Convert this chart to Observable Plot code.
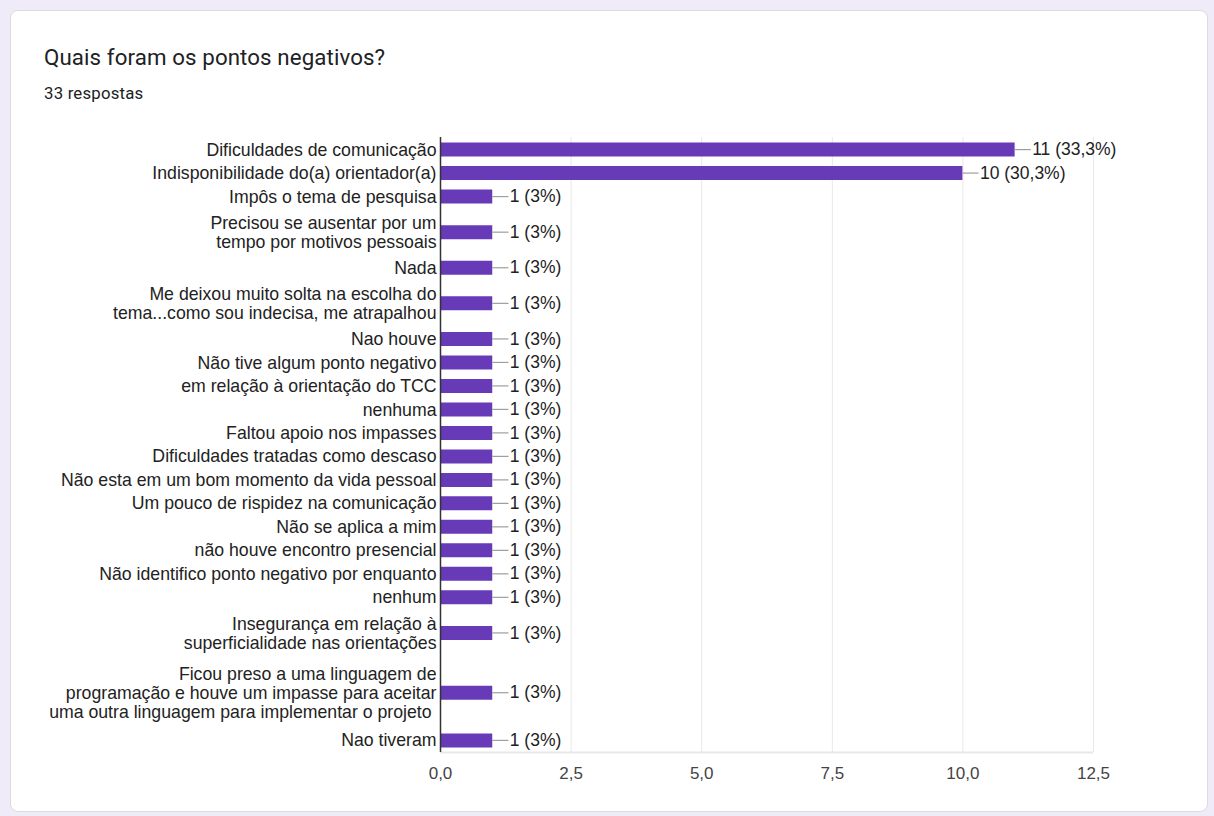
<!DOCTYPE html>
<html>
<head>
<meta charset="utf-8">
<script src="https://cdn.jsdelivr.net/npm/d3@7"></script>
<script src="https://cdn.jsdelivr.net/npm/@observablehq/plot@0.6"></script>
<style>
  html, body { margin: 0; padding: 0; background: #f0ebf8; width: 1214px; height: 816px; overflow: hidden; }
  #card { position: absolute; left: 10px; top: 10px; width: 1198px; height: 802px; background: #fff;
          border: 1px solid #dadce0; border-radius: 8px; box-sizing: border-box; }
  #title { position: absolute; left: 44px; top: 43px; font-family: Roboto, "Noto Sans", sans-serif;
           font-size: 22.3px; color: #202124; letter-spacing: 0.1px; line-height: 28px; }
  #sub { position: absolute; left: 44px; top: 82px; font-family: Roboto, "Noto Sans", sans-serif;
         font-size: 16.8px; color: #202124; letter-spacing: 0.2px; line-height: 22px; }
  #chart { position: absolute; left: 0; top: 120px; }
  #chart svg text { font-family: "Liberation Sans", Arial, sans-serif; }
</style>
</head>
<body>
<div id="card"></div>
<div id="title">Quais foram os pontos negativos?</div>
<div id="sub">33 respostas</div>
<div id="chart"></div>
<script>
const categories = [
  "Dificuldades de comunicação",
  "Indisponibilidade do(a) orientador(a)",
  "Impôs o tema de pesquisa",
  "Precisou se ausentar por um\ntempo por motivos pessoais",
  "Nada",
  "Me deixou muito solta na escolha do\ntema...como sou indecisa, me atrapalhou",
  "Nao houve",
  "Não tive algum ponto negativo",
  "em relação à orientação do TCC",
  "nenhuma",
  "Faltou apoio nos impasses",
  "Dificuldades tratadas como descaso",
  "Não esta em um bom momento da vida pessoal",
  "Um pouco de rispidez na comunicação",
  "Não se aplica a mim",
  "não houve encontro presencial",
  "Não identifico ponto negativo por enquanto",
  "nenhum",
  "Insegurança em relação à\nsuperficialidade nas orientações",
  "Ficou preso a uma linguagem de\nprogramação e houve um impasse para aceitar\numa outra linguagem para implementar o projeto ",
  "Nao tiveram"
];
const counts = [11, 10, 1, 1, 1, 1, 1, 1, 1, 1, 1, 1, 1, 1, 1, 1, 1, 1, 1, 1, 1];
const totalResponses = 33;
const xTicks = [0, 2.5, 5, 7.5, 10, 12.5];

// layout: rows spaced by base pitch plus extra space for wrapped labels
const PITCH = 23.3, EXTRA = 12;
const lines = categories.map(c => c.split("\n").length);
const rows = [];
let p = 0;
categories.forEach((c, i) => {
  if (i > 0) p += PITCH + EXTRA * ((lines[i - 1] - 1) + (lines[i] - 1));
  const pct = (counts[i] / totalResponses * 100).toFixed(1).replace(/\.0$/, "").replace(".", ",");
  rows.push({label: c, value: counts[i], pos: p, text: `${counts[i]} (${pct}%)`});
});
const first = rows[0].pos, last = rows[rows.length - 1].pos;
const fmt = d => d.toFixed(1).replace(".", ",");
const FONT = "'Liberation Sans', Arial, sans-serif";

const chart = Plot.plot({
  width: 1214,
  height: 680,
  marginLeft: 440,
  marginRight: 121,
  marginTop: 17,
  marginBottom: 48,
  style: {fontFamily: FONT, fontSize: "17px", color: "#222", background: "transparent"},
  x: {domain: [0, 12.5], ticks: xTicks, tickFormat: fmt, tickSize: 0, tickPadding: 16, label: null},
  y: {domain: [first - 12, last + 12], reverse: true, axis: null},
  marks: [
    Plot.gridX(xTicks, {stroke: "#e8e8e8", strokeOpacity: 1}),
    Plot.ruleY([last + 12], {stroke: "#e8e8e8", strokeWidth: 2}),
    Plot.ruleY(rows, {y: "pos", x1: 0, x2: "value", stroke: "#673ab7", strokeWidth: 14}),
    Plot.ruleY(rows, {y: "pos", x1: "value", x2: d => d.value + 0.31, stroke: "#9e9e9e", strokeWidth: 1.2}),
    Plot.text(rows, {y: "pos", x: "value", text: "text", dx: 17, textAnchor: "start", fill: "#222", fontSize: 17.5, fontFamily: FONT}),
    Plot.text(rows, {y: "pos", x: 0, text: "label", dx: -4, textAnchor: "end", fill: "#222", fontSize: 17.7, fontFamily: FONT, lineHeight: 1.075}),
    Plot.ruleX([0], {stroke: "#333", strokeWidth: 1.5}),
    Plot.axisX({ticks: xTicks, tickFormat: fmt, tickSize: 0, tickPadding: 14, fill: "#444", fontSize: 17, fontFamily: FONT, label: null})
  ]
});
document.getElementById("chart").appendChild(chart);
</script>
</body>
</html>
